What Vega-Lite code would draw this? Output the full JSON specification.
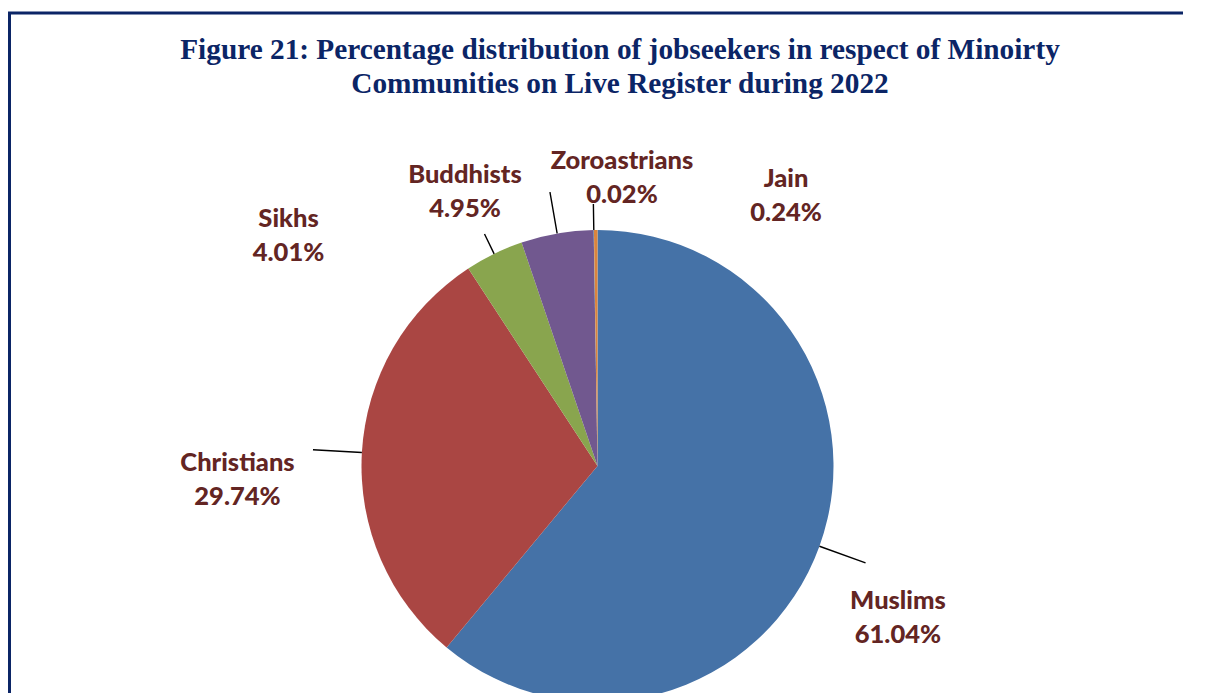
{
  "$schema": "https://vega.github.io/schema/vega-lite/v6.json",
  "width": 1176,
  "height": 906,
  "autosize": {"type": "none"},
  "padding": {"left": 9.5, "top": 13, "right": -3, "bottom": 0},
  "background": "white",
  "view": {"stroke": "#0B2566", "strokeWidth": 3, "fill": "white"},
  "config": {"view": {"stroke": "#0B2566", "strokeWidth": 3}},
  "title": {
    "text": ["Figure 21: Percentage distribution of jobseekers in respect of Minoirty", "Communities on Live Register during 2022"],
    "font": "Liberation Serif",
    "fontSize": 29.3,
    "fontWeight": "bold",
    "color": "#0B2566",
    "anchor": "middle",
    "frame": "group",
    "orient": "top",
    "offset": -86,
    "dx": 22.5,
    "lineHeight": 33.5
  },
  "data": {
    "values": [
      {"category": "Muslims", "value": 61.04, "order": 1},
      {"category": "Christians", "value": 29.74, "order": 2},
      {"category": "Sikhs", "value": 4.01, "order": 3},
      {"category": "Buddhists", "value": 4.95, "order": 4},
      {"category": "Zoroastrians", "value": 0.02, "order": 5},
      {"category": "Jain", "value": 0.24, "order": 6}
    ]
  },
  "transform": [
    {"window": [{"op": "sum", "field": "value", "as": "cum"}], "sort": [{"field": "order", "order": "ascending"}], "frame": [null, 0]},
    {"calculate": "datum.cum - datum.value / 2", "as": "mid"},
    {"calculate": "datum.category + '\\n' + format(datum.value, '.2f') + '%'", "as": "label"}
  ],
  "layer": [
    {
      "mark": {"type": "arc", "outerRadius": 236, "innerRadius": 0},
      "encoding": {
        "theta": {"field": "value", "type": "quantitative", "stack": true, "scale": {"domain": [0, 100]}},
        "order": {"field": "order", "type": "quantitative", "sort": "ascending"},
        "color": {
          "field": "category",
          "type": "nominal",
          "scale": {
            "domain": ["Muslims", "Christians", "Sikhs", "Buddhists", "Zoroastrians", "Jain"],
            "range": ["#4572A7", "#AA4643", "#89A54E", "#71588F", "#4198AF", "#DB843D"]
          },
          "legend": null
        }
      }
    },
    {
      "transform": [{"filter": {"field": "category", "oneOf": ["Muslims", "Christians"]}}],
      "mark": {"type": "arc", "innerRadius": 236, "outerRadius": 285, "filled": false, "stroke": "#000000", "strokeWidth": 1.4},
      "encoding": {
        "theta": {"field": "mid", "type": "quantitative", "stack": null, "scale": {"domain": [0, 100]}},
        "theta2": {"field": "mid"}
      }
    },
    {
      "transform": [{"filter": {"field": "category", "equal": "Buddhists"}}],
      "mark": {"type": "arc", "innerRadius": 236, "outerRadius": 278, "filled": false, "stroke": "#000000", "strokeWidth": 1.4},
      "encoding": {
        "theta": {"field": "mid", "type": "quantitative", "stack": null, "scale": {"domain": [0, 100]}},
        "theta2": {"field": "mid"}
      }
    },
    {
      "transform": [{"filter": {"field": "category", "equal": "Zoroastrians"}}],
      "mark": {"type": "arc", "innerRadius": 236, "outerRadius": 262, "filled": false, "stroke": "#000000", "strokeWidth": 1.4},
      "encoding": {
        "theta": {"field": "mid", "type": "quantitative", "stack": null, "scale": {"domain": [0, 100]}},
        "theta2": {"field": "mid"}
      }
    },
    {
      "transform": [{"filter": {"field": "category", "equal": "Sikhs"}}],
      "mark": {"type": "arc", "innerRadius": 236, "outerRadius": 258, "filled": false, "stroke": "#000000", "strokeWidth": 1.4},
      "encoding": {
        "theta": {"field": "mid", "type": "quantitative", "stack": null, "scale": {"domain": [0, 100]}},
        "theta2": {"field": "mid"}
      }
    },
    {
      "transform": [{"filter": {"field": "category", "equal": "Muslims"}}],
      "mark": {"type": "text", "radius": 300, "dx": 18.3, "dy": 33.3, "font": "Lato", "fontWeight": 900, "fontSize": 25.5, "color": "#632523", "lineBreak": "\n", "lineHeight": 34, "align": "center", "baseline": "middle"},
      "encoding": {
        "theta": {"field": "mid", "type": "quantitative", "stack": null, "scale": {"domain": [0, 100]}},
        "text": {"field": "label"}
      }
    },
    {
      "transform": [{"filter": {"field": "category", "equal": "Christians"}}],
      "mark": {"type": "text", "radius": 300, "dx": -60.5, "dy": 14.1, "font": "Lato", "fontWeight": 900, "fontSize": 25.5, "color": "#632523", "lineBreak": "\n", "lineHeight": 34, "align": "center", "baseline": "middle"},
      "encoding": {
        "theta": {"field": "mid", "type": "quantitative", "stack": null, "scale": {"domain": [0, 100]}},
        "text": {"field": "label"}
      }
    },
    {
      "transform": [{"filter": {"field": "category", "equal": "Sikhs"}}],
      "mark": {"type": "text", "radius": 300, "dx": -177.6, "dy": 23.0, "font": "Lato", "fontWeight": 900, "fontSize": 25.5, "color": "#632523", "lineBreak": "\n", "lineHeight": 34, "align": "center", "baseline": "middle"},
      "encoding": {
        "theta": {"field": "mid", "type": "quantitative", "stack": null, "scale": {"domain": [0, 100]}},
        "text": {"field": "label"}
      }
    },
    {
      "transform": [{"filter": {"field": "category", "equal": "Buddhists"}}],
      "mark": {"type": "text", "radius": 300, "dx": -81.2, "dy": 4.3, "font": "Lato", "fontWeight": 900, "fontSize": 25.5, "color": "#632523", "lineBreak": "\n", "lineHeight": 34, "align": "center", "baseline": "middle"},
      "encoding": {
        "theta": {"field": "mid", "type": "quantitative", "stack": null, "scale": {"domain": [0, 100]}},
        "text": {"field": "label"}
      }
    },
    {
      "transform": [{"filter": {"field": "category", "equal": "Zoroastrians"}}],
      "mark": {"type": "text", "radius": 300, "dx": 29.2, "dy": -4.8, "font": "Lato", "fontWeight": 900, "fontSize": 25.5, "color": "#632523", "lineBreak": "\n", "lineHeight": 34, "align": "center", "baseline": "middle"},
      "encoding": {
        "theta": {"field": "mid", "type": "quantitative", "stack": null, "scale": {"domain": [0, 100]}},
        "text": {"field": "label"}
      }
    },
    {
      "transform": [{"filter": {"field": "category", "equal": "Jain"}}],
      "mark": {"type": "text", "radius": 300, "dx": 190.8, "dy": 12.7, "font": "Lato", "fontWeight": 900, "fontSize": 25.5, "color": "#632523", "lineBreak": "\n", "lineHeight": 34, "align": "center", "baseline": "middle"},
      "encoding": {
        "theta": {"field": "mid", "type": "quantitative", "stack": null, "scale": {"domain": [0, 100]}},
        "text": {"field": "label"}
      }
    }
  ]
}
